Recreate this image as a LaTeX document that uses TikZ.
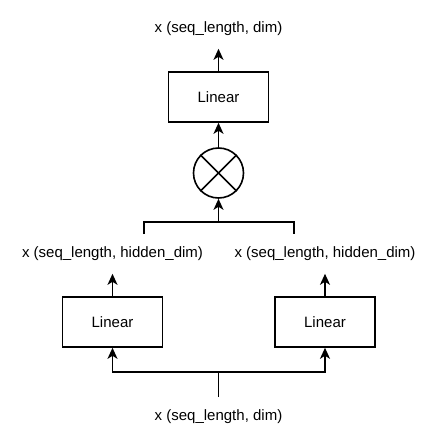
\documentclass[tikz,border=0pt]{standalone}
\usepackage{fontspec}
\setmainfont{Liberation Sans}
\usetikzlibrary{arrows.meta}

\begin{document}
\begin{tikzpicture}[x=1pt,y=1pt,line width=1.6pt,
  font=\fontsize{15}{18}\selectfont,
  arr/.style={-{Stealth[length=11pt,width=10pt,inset=3pt]}},
  linbox/.style={draw,rectangle,minimum width=100pt,minimum height=50pt,inner sep=0pt},
  mulnode/.style={draw,circle,minimum size=50pt,inner sep=0pt},
  shapelbl/.style={inner sep=0pt,minimum height=38pt}]
  \useasboundingbox (0,0) rectangle (434,-447);
  % output
  \node[shapelbl] (outlbl) at (218.5,-29) {x (seq\_length, dim)};
  \node[linbox] (linout) at (218.5,-97) {Linear};
  \node[mulnode] (mul) at (218.5,-173) {};
  \draw (mul.north west) -- (mul.south east);
  \draw (mul.north east) -- (mul.south west);
  % branches
  \coordinate (join) at (218.5,-222);
  \coordinate (jl) at (144,-234);
  \coordinate (jr) at (294,-234);
  \node[shapelbl] (lh1) at (112.5,-254) {x (seq\_length, hidden\_dim)};
  \node[shapelbl] (lh2) at (325,-254) {x (seq\_length, hidden\_dim)};
  \node[linbox] (lin1) at (112.5,-322) {Linear};
  \node[linbox] (lin2) at (325,-322) {Linear};
  % input
  \coordinate (split) at (218.5,-372);
  \node[shapelbl] (inlbl) at (218.5,-417) {x (seq\_length, dim)};
  % connectors
  \draw[arr] (linout) -- (outlbl);
  \draw[arr] (mul) -- (linout);
  \draw[arr] (join) -- (mul);
  \draw (jl) |- (join) -| (jr);
  \draw[arr] (lin1) -- (lh1);
  \draw[arr] (lin2) -- (lh2);
  \draw (inlbl) -- (split);
  \draw[arr] (split) -| (lin1);
  \draw[arr] (split) -| (lin2);
\end{tikzpicture}
\end{document}
